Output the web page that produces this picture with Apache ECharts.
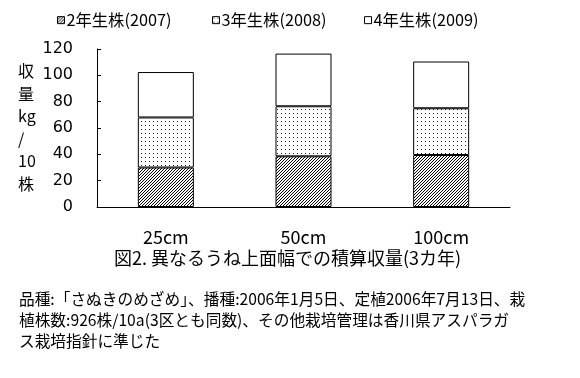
<!DOCTYPE html>
<html><head><meta charset="utf-8">
<script src="https://cdn.jsdelivr.net/npm/echarts@6/dist/echarts.min.js"></script>
<style>html,body{margin:0;padding:0;background:#fff}#c{width:580px;height:378px}</style>
</head><body><div id="c"></div>
<script>
const categories = ['25cm', '50cm', '100cm'];
const seriesNames = ['2年生株(2007)', '3年生株(2008)', '4年生株(2009)'];
const yield2007 = [30, 38.5, 39.5];
const yield2008 = [38, 38, 35.5];
const yield2009 = [34.5, 40, 35.5];
const yTicks = [0, 20, 40, 60, 80, 100, 120];

const FONT = '"Noto Sans CJK JP", sans-serif';

function hatch() {
  const c = document.createElement('canvas'); c.width = 3; c.height = 3;
  const g = c.getContext('2d'); g.fillStyle = '#fff'; g.fillRect(0,0,3,3);
  g.fillStyle = '#000';
  for (let i = 0; i < 3; i++) g.fillRect(i, 2 - i, 1, 1);
  return { image: c, repeat: 'repeat' };
}
function dots() {
  const c = document.createElement('canvas'); c.width = 4; c.height = 4;
  const g = c.getContext('2d'); g.fillStyle = '#fff'; g.fillRect(0,0,4,4);
  g.fillStyle = '#222'; g.fillRect(1, 1, 1, 1);
  return { image: c, repeat: 'repeat' };
}
const fills = [hatch(), dots(), '#ffffff'];
const values = [yield2007, yield2008, yield2009];
const legendLefts = [57, 212, 364];

const chart = echarts.init(document.getElementById('c'), null, { renderer: 'canvas' });
chart.setOption({
  animation: false,
  backgroundColor: '#fff',
  textStyle: { fontFamily: FONT, color: '#000' },
  legend: seriesNames.map((n, i) => ({
    left: legendLefts[i], top: 12, itemWidth: 7, itemHeight: 7, padding: 0,
    icon: 'rect',
    itemStyle: { borderColor: '#000', borderWidth: 1 },
    textStyle: { fontFamily: FONT, fontSize: 16.3, color: '#000', padding: [0,0,0,-3] },
    data: [n]
  })),
  grid: { left: 97, top: 49, width: 413, height: 158 },
  xAxis: {
    type: 'category', data: categories,
    axisLine: { lineStyle: { color: '#000', width: 1 } },
    axisTick: { inside: true, length: 5, lineStyle: { color: '#000' } },
    axisLabel: { color: '#000', fontSize: 18, fontFamily: FONT, margin: 21 }
  },
  yAxis: {
    type: 'value', min: yTicks[0], max: yTicks[yTicks.length - 1], interval: 20,
    axisLine: { show: true, lineStyle: { color: '#000', width: 1 } },
    axisTick: { show: true, inside: true, length: 4, lineStyle: { color: '#000' } },
    splitLine: { show: false },
    axisLabel: { color: '#000', fontSize: 16, fontFamily: '"DejaVu Sans", sans-serif', margin: 24 }
  },
  series: seriesNames.map((n, i) => ({
    name: n, type: 'bar', stack: 'total', barWidth: 56,
    data: values[i],
    itemStyle: { color: fills[i], borderColor: '#000', borderWidth: 1 }
  })),
  graphic: [
    { type: 'text', left: 18, top: 60,
      style: { text: '収\n量\nkg\n/\n10\n株', fontSize: 16, lineHeight: 22.5, fontFamily: FONT, fill: '#000', align: 'center' } },
    { type: 'text', left: 114, top: 249,
      style: { text: '図2. 異なるうね上面幅での積算収量(3カ年)', fontSize: 18, fontFamily: FONT, fill: '#000' } },
    { type: 'text', left: 19, top: 289,
      style: { text: '品種:「さぬきのめざめ」、播種:2006年1月5日、定植2006年7月13日、栽\n植株数:926株/10a(3区とも同数)、その他栽培管理は香川県アスパラガ\nス栽培指針に準じた',
        fontSize: 15.7, lineHeight: 21, fontFamily: FONT, fill: '#000' } }
  ]
});
</script></body></html>
